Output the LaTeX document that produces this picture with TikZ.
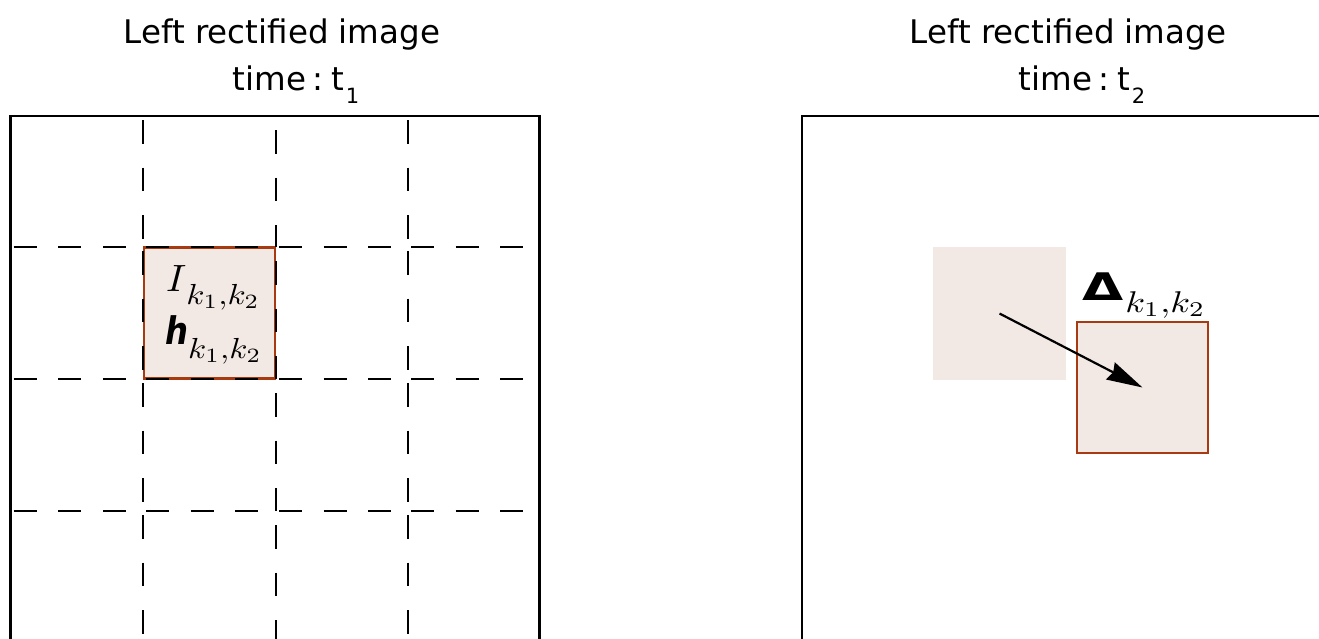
\documentclass[tikz,border=0pt]{standalone}
\usepackage{graphicx}
\usepackage{fontspec}
\setmainfont{DejaVu Sans}
\setsansfont{DejaVu Sans}
\usetikzlibrary{arrows.meta}
\definecolor{patchfill}{RGB}{243,233,228}
\definecolor{patchedge}{RGB}{168,58,18}
\newcommand{\subkk}[3]{\raisebox{-#1pt}{\scalebox{#2}[#3]{$k_1{,}k_2$}}}
\begin{document}
\begin{tikzpicture}[x=1pt,y=-1pt,
  title/.style={font=\fontsize{32.5}{39}\selectfont, inner sep=0pt, anchor=base},
  frame/.style={draw=black, line width=2.2pt},
  hdash/.style={draw=black, line width=2pt, dash pattern=on 23pt off 21.7pt, dash phase=41.7pt},
  vdash/.style={draw=black, line width=2pt, dash pattern=on 23.5pt off 24pt, dash phase=43.5pt},
  vdashmid/.style={draw=black, line width=2pt, dash pattern=on 23.5pt off 24pt, dash phase=33.5pt},
  patch/.style={fill=patchfill, inner sep=0pt, minimum size=133pt, outer sep=0pt},
  edged/.style={patch, draw=patchedge, line width=2.2pt, minimum size=131pt},
  mathlbl/.style={inner sep=0pt, anchor=base west},
  shift arrow/.style={draw=black, line width=2.2pt, -{Stealth[length=36pt,width=19pt,inset=3pt]}}
]
\useasboundingbox (0,0) rectangle (1319,638);
\clip (0,0) rectangle (1319,638);

% ---- titles
\node[title] (tl1) at (282,43) {Left rectified image};
\node[title] (tl2) at (296,90) {time\hspace{6pt}:\hspace{8pt}t\hspace{2pt}\raisebox{-13pt}{\fontsize{21}{21}\selectfont 1}};
\node[title] (tr1) at (1068,43) {Left rectified image};
\node[title] (tr2) at (1082,90) {time\hspace{6pt}:\hspace{8pt}t\hspace{2pt}\raisebox{-13pt}{\fontsize{21}{21}\selectfont 2}};

% ---- left image: highlighted cell
\node[edged] (cell) at (209.5,313) {};

% ---- left image: dashed grid (each segment per cell)
\foreach \y in {247,379,511}{
  \foreach \xa/\xb in {10.5/143,143/276,276/408,408/539.5}{
    \draw[hdash] (\xa,\y) -- (\xb,\y);
  }
}
\foreach \ya/\yb in {116/247,247/379,379/511,511/643}{
  \draw[vdash] (143,\ya) -- (143,\yb);
  \draw[vdashmid] (276,\ya) -- (276,\yb);
  \draw[vdash] (408,\ya) -- (408,\yb);
}
\draw[frame] (10.5,116) rectangle (539.5,646);

% ---- left cell labels
\node[mathlbl] (Ilab) at (166,291) {\scalebox{3.9}[3.8]{$I$}\hspace{0pt}\subkk{13}{3.3}{2.9}};
\node[mathlbl] (hlab) at (165,344) {\scalebox{0.85}[1]{\fontsize{38}{40}\selectfont\sffamily\bfseries\itshape h}\hspace{0pt}\subkk{14}{3.3}{2.9}};

% ---- right image
\draw[frame] (802,116) rectangle (1331,646);
\node[patch] (src) at (999.5,313.5) {};
\node[edged] (dst) at (1142.5,387.5) {};
\draw[shift arrow] (src.center) -- (dst.center);
\node[mathlbl] (dlab) at (1082,300) {\scalebox{1.4}[1]{\fontsize{38}{40}\selectfont\bfseries Δ}\hspace{2pt}\subkk{12}{3.6}{3.0}};
\end{tikzpicture}
\end{document}
